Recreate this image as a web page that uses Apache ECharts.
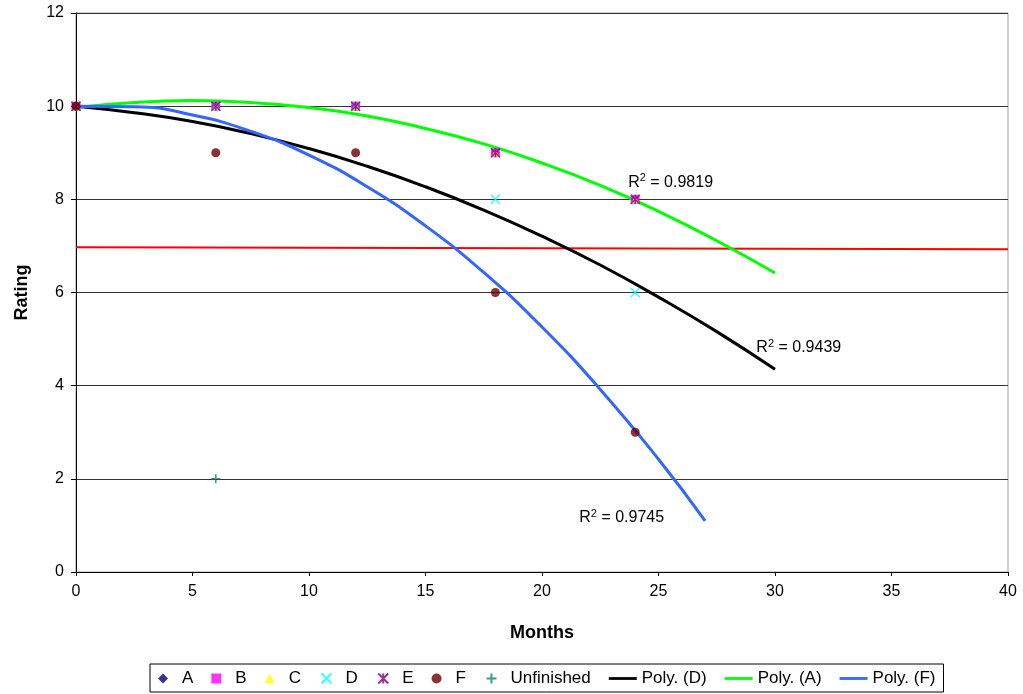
<!DOCTYPE html>
<html>
<head>
<meta charset="utf-8">
<script src="https://cdn.jsdelivr.net/npm/echarts@6/dist/echarts.min.js"></script>
<style>
  html, body { margin: 0; padding: 0; background: #fff; }
  #chart { width: 1023px; height: 694px; }
</style>
</head>
<body>
<div id="chart"></div>
<script>
// observed points: [months, rating]
const seriesA = [[0, 10], [6, 10], [12, 10], [18, 9], [24, 8]];
const seriesB = [[0, 10], [6, 10], [12, 10], [18, 9], [24, 8]];
const seriesC = [[0, 10], [6, 10], [12, 10], [18, 9], [24, 8]];
const seriesD = [[0, 10], [6, 10], [12, 10], [18, 8], [24, 6]];
const seriesE = [[0, 10], [6, 10], [12, 10], [18, 9], [24, 8]];
const seriesF = [[0, 10], [6, 9], [12, 9], [18, 6], [24, 3]];
const unfinished = [[6, 2]];

// trend curves
const polyD = [[0, 10], [2.5, 9.86], [5, 9.67], [7.5, 9.41], [10, 9.09], [12.5, 8.71], [15, 8.27],
  [17.5, 7.77], [20, 7.21], [22.5, 6.59], [25, 5.9], [27.5, 5.16], [30, 4.35]];
const polyA = [[0, 9.97], [2.5, 10.08], [5, 10.12], [7.5, 10.08], [10, 9.97], [12.5, 9.79], [15, 9.52],
  [17.5, 9.19], [20, 8.78], [22.5, 8.3], [25, 7.74], [27.5, 7.11], [30, 6.42]];
const polyF = [[0, 10], [2.5, 9.99], [5, 9.81], [7.5, 9.46], [10, 8.95], [12.5, 8.27], [15, 7.43],
  [17.5, 6.43], [20, 5.26], [22.5, 3.92], [25, 2.42], [27, 1.1]];
const redLine = [[0, 6.97], [40, 6.93]];

// R² labels: [text value, x, y] in data units
const r2Labels = [
  ["0.9819", 23.7, 8.37],
  ["0.9439", 29.2, 4.81],
  ["0.9745", 21.6, 1.16]
];

const font = "Liberation Sans, Arial, sans-serif";

const markerSeries = (name, data, symbol, color, size, extra) => Object.assign({
  name: name,
  type: "scatter",
  data: data,
  symbol: symbol,
  symbolSize: size,
  itemStyle: { color: color },
  z: 5
}, extra || {});

const trendSeries = (name, data, color) => ({
  name: name,
  type: "line",
  data: data,
  smooth: true,
  showSymbol: false,
  lineStyle: { color: color, width: 3 },
  itemStyle: { color: color },
  z: 3
});

// path icons
const xIcon = "path://M0,0L10,10M10,0L0,10";
const starIcon = "path://M0,0L10,10M10,0L0,10M5,0L5,10";
const plusIcon = "path://M5,0L5,10M0,5L10,5";
const diamondIcon = "path://M5,0L10,5L5,10L0,5Z";
const squareIcon = "path://M1,1L9,1L9,9L1,9Z";
const triIcon = "path://M5,0L10,10L0,10Z";
const circleIcon = "path://M5,0A5,5,0,1,1,4.99,0Z";
const lineIcon = "path://M0,0L30,0L30,3L0,3Z";

const myChart = echarts.init(document.getElementById("chart"));

const option = {
  animation: false,
  textStyle: { fontFamily: font },
  grid: {
    left: 76,
    right: 15,
    top: 13,
    bottom: 122,
    show: true,
    borderColor: "#a0a0a0",
    borderWidth: 1
  },
  xAxis: {
    type: "value",
    min: 0,
    max: 40,
    interval: 5,
    name: "Months",
    nameLocation: "middle",
    nameGap: 52,
    nameTextStyle: { fontSize: 18, fontWeight: "bold", color: "#000" },
    axisLine: { lineStyle: { color: "#000" } },
    axisTick: { show: true, length: 4, lineStyle: { color: "#000" } },
    axisLabel: { fontSize: 16, color: "#000", margin: 12 },
    splitLine: { show: false }
  },
  yAxis: {
    type: "value",
    min: 0,
    max: 12,
    interval: 2,
    name: "Rating",
    nameLocation: "middle",
    nameGap: 45,
    nameRotate: 90,
    nameTextStyle: { fontSize: 18, fontWeight: "bold", color: "#000" },
    axisLine: { show: true, lineStyle: { color: "#000" } },
    axisTick: { show: true, length: 5, lineStyle: { color: "#000" } },
    axisLabel: { fontSize: 16, color: "#000", margin: 12 },
    splitLine: { show: true, lineStyle: { color: "#333", width: 1 } }
  },
  legend: {
    bottom: 2,
    left: 150,
    padding: [6, 8, 5, 8],
    borderColor: "#000",
    borderWidth: 1,
    itemGap: 18,
    itemWidth: 28,
    itemHeight: 10,
    symbolKeepAspect: true,
    textStyle: { fontSize: 17, color: "#000", fontFamily: font },
    data: [
      { name: "A", icon: diamondIcon },
      { name: "B", icon: squareIcon },
      { name: "C", icon: triIcon },
      { name: "D", icon: xIcon },
      { name: "E", icon: starIcon },
      { name: "F", icon: circleIcon },
      { name: "Unfinished", icon: plusIcon },
      { name: "Poly. (D)", icon: lineIcon },
      { name: "Poly. (A)", icon: lineIcon },
      { name: "Poly. (F)", icon: lineIcon }
    ]
  },
  series: [
    markerSeries("A", seriesA, diamondIcon, "#000080", 9),
    markerSeries("B", seriesB, squareIcon, "#ff00ff", 9),
    markerSeries("C", seriesC, triIcon, "#ffff00", 8),
    markerSeries("D", seriesD, xIcon, "#00ffff", 9, {
      itemStyle: { color: "none", borderColor: "#00ffff", borderWidth: 1.5 }
    }),
    markerSeries("E", seriesE, starIcon, "#800080", 9, {
      itemStyle: { color: "none", borderColor: "#800080", borderWidth: 1.5 }
    }),
    markerSeries("F", seriesF, circleIcon, "#6e0000", 9),
    markerSeries("Unfinished", unfinished, plusIcon, "#008080", 9, {
      itemStyle: { color: "none", borderColor: "#008080", borderWidth: 1.5 }
    }),
    trendSeries("Poly. (D)", polyD, "#000000"),
    trendSeries("Poly. (A)", polyA, "#00ff00"),
    trendSeries("Poly. (F)", polyF, "#3366ff"),
    {
      name: "red",
      type: "line",
      data: redLine,
      showSymbol: false,
      lineStyle: { color: "#ff0000", width: 2 },
      z: 2
    }
  ]
};

myChart.setOption(option);

// R² labels placed at data coordinates
const graphics = r2Labels.map((l) => {
  const p = myChart.convertToPixel({ xAxisIndex: 0, yAxisIndex: 0 }, [l[1], l[2]]);
  return {
    type: "text",
    x: p[0],
    y: p[1],
    style: {
      text: "R{sup|2} = " + l[0],
      fontSize: 16,
      fontFamily: font,
      fill: "#000",
      verticalAlign: "middle",
      rich: {
        sup: { fontSize: 11, verticalAlign: "top", padding: [0, 0, 8, 0], fill: "#000" }
      }
    },
    z: 10
  };
});
myChart.setOption({ graphic: graphics });
</script>
</body>
</html>
